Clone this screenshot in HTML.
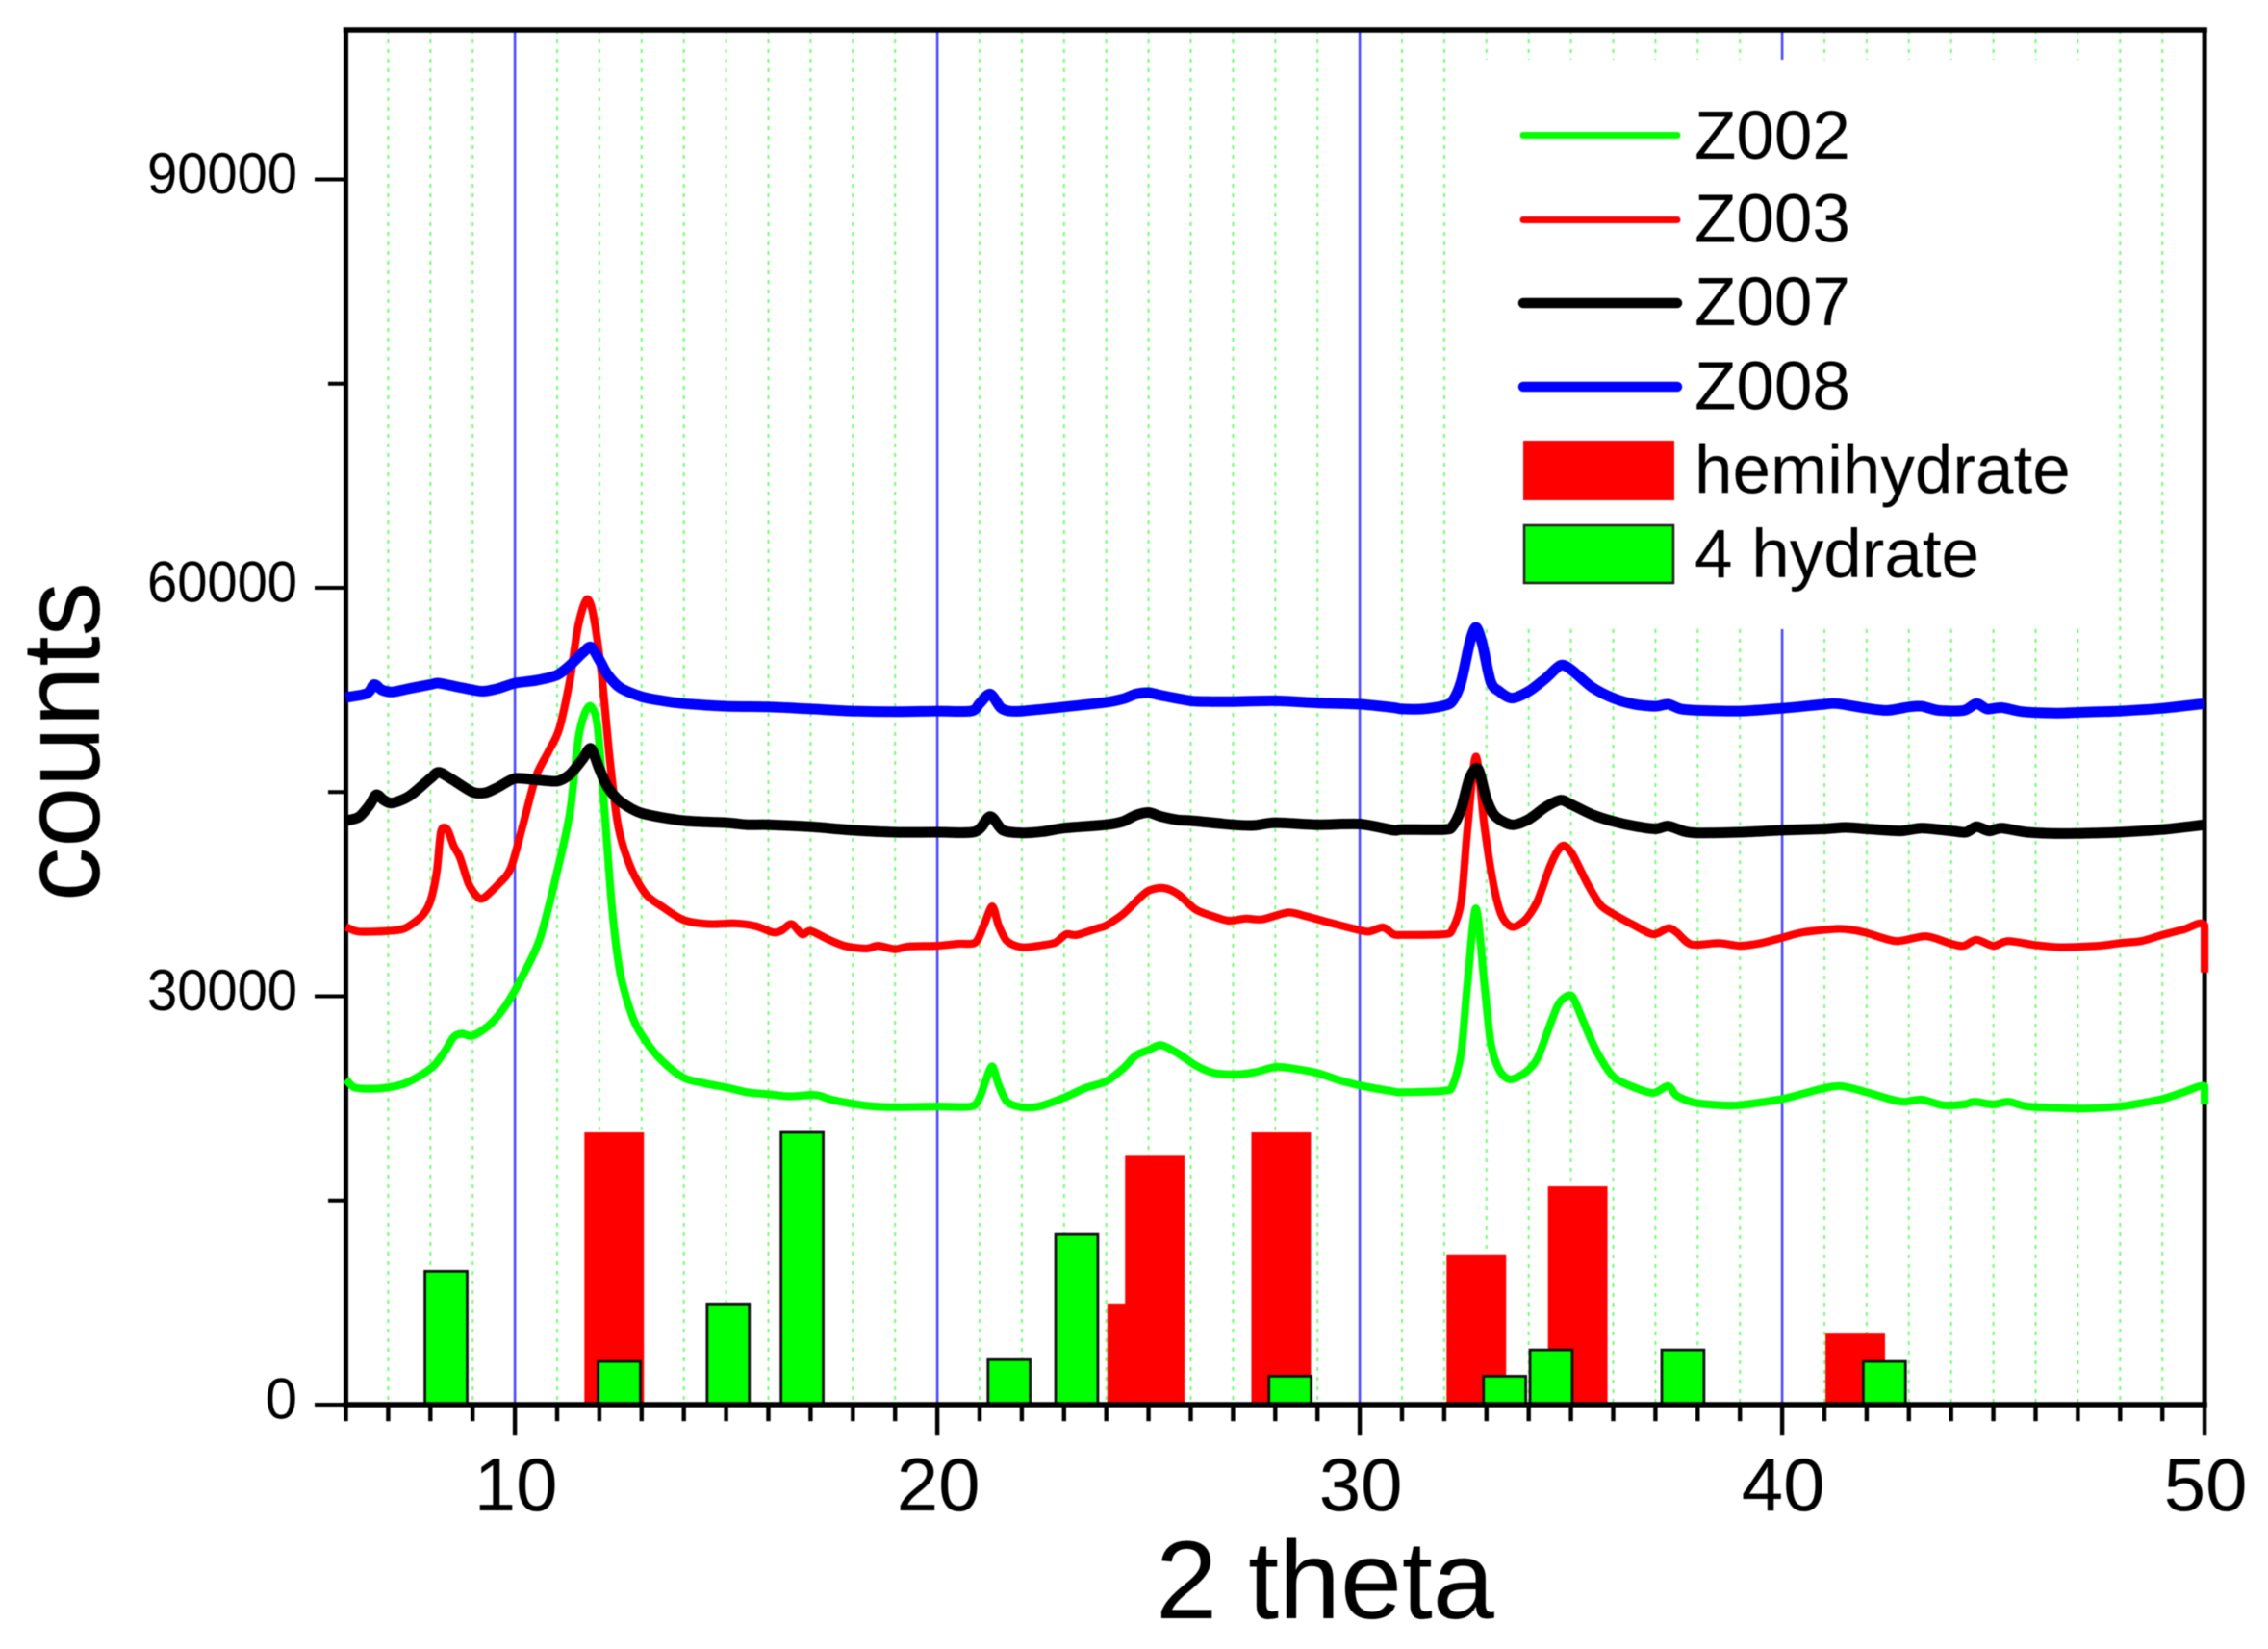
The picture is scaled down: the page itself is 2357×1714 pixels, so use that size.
<!DOCTYPE html>
<html lang="en">
<head>
<meta charset="utf-8">
<title>XRD counts vs 2 theta</title>
<style>
html,body{margin:0;padding:0;background:#fff;}
svg{display:block;position:absolute;left:0;top:0;font-family:"Liberation Sans",Arial,sans-serif;filter:blur(0.6px);}
text{fill:#000;}
</style>
</head>
<body>
<svg id="chart" xmlns="http://www.w3.org/2000/svg" width="2357" height="1714" viewBox="0 0 2357 1714">
  <rect x="0" y="0" width="2357" height="1714" fill="#fff"/>
  <g id="grid"></g>
  <rect x="1520" y="62" width="660" height="592" fill="#fff"/>
  <g id="bars"></g>
  <g id="axes"></g>
  <g id="series"></g>
  <text x="1377" y="1682" font-size="115" text-anchor="middle">2 theta</text>
  <text transform="translate(103,771) rotate(-90)" font-size="115" text-anchor="middle" textLength="332" lengthAdjust="spacingAndGlyphs">counts</text>
  <g>
    <g>
      <line x1="1583" y1="140.5" x2="1743" y2="140.5" stroke="#00ff00" stroke-width="7" stroke-linecap="round"/>
      <text x="1761" y="165" font-size="71">Z002</text>
    </g>
    <g>
      <line x1="1583" y1="228.5" x2="1743" y2="228.5" stroke="#ff0000" stroke-width="7" stroke-linecap="round"/>
      <text x="1761" y="251.5" font-size="71">Z003</text>
    </g>
    <g>
      <line x1="1583" y1="315" x2="1743" y2="315" stroke="#000" stroke-width="10.5" stroke-linecap="round"/>
      <text x="1761" y="338" font-size="71">Z007</text>
    </g>
    <g>
      <line x1="1583" y1="402" x2="1743" y2="402" stroke="#0000ff" stroke-width="10.5" stroke-linecap="round"/>
      <text x="1761" y="425.5" font-size="71">Z008</text>
    </g>
    <g>
      <rect x="1583" y="458" width="157" height="62" fill="#ff0000"/>
      <text x="1761" y="512.5" font-size="71">hemihydrate</text>
    </g>
    <g>
      <rect x="1584" y="546" width="155" height="60" fill="#00ff00" stroke="#222" stroke-width="2.5"/>
      <text x="1761" y="600" font-size="71">4 hydrate</text>
    </g>
  </g>
</svg>
<script>
// ---------- tick data ----------
const xMajorTicks = [10, 20, 30, 40, 50];
const xMinorTicks = [6,7,8,9,11,12,13,14,15,16,17,18,19,21,22,23,24,25,26,27,28,29,31,32,33,34,35,36,37,38,39,41,42,43,44,45,46,47,48,49];
const yMajorTicks = [0, 30000, 60000, 90000];
const yMinorTicks = [15000, 45000, 75000];
const legendHiddenGrid = [33,34,35,36,37,38,39,40,41,42,43,44,45,46,47];

// ---------- bar data ----------
const hemihydrateTheta = [12.35, 24.73, 25.15, 28.14, 32.76, 35.16, 41.73];
const hemihydrateCounts = [20000, 7430, 18280, 20000, 11040, 16040, 5220];
const hydrate4Theta = [8.37, 12.47, 15.05, 16.8, 21.7, 23.3, 28.35, 33.43, 34.53, 37.65, 42.42];
const hydrate4Counts = [9800, 3170, 7400, 20000, 3300, 12500, 2090, 2090, 4020, 4020, 3170];

// ---------- curve data ----------
const z002Theta = [
6,6.2,6.6,7,7.4,7.8,8.1,8.35,8.55,8.75,
9,9.4,9.8,10.2,10.6,11,11.3,11.5,11.65,11.8,
11.95,12.1,12.3,12.5,12.8,13.1,13.5,14,14.5,15,
15.5,16,16.5,17,17.2,17.5,18,18.5,19,20,
20.8,21,21.15,21.3,21.45,21.65,22,22.4,23,23.5,
24,24.4,24.7,25,25.3,25.7,26.1,26.5,27,27.5,
28,28.4,29,29.5,30,30.8,31,32,32.2,32.4,
32.55,32.75,32.95,33.1,33.3,33.55,33.9,34.2,34.5,34.7,
34.9,35.05,35.3,35.6,36,36.5,36.95,37.3,37.5,37.9,
38.5,39,40,40.5,41,41.4,42,42.6,42.9,43.3,
43.8,44.3,44.55,45,45.35,45.8,46.5,47.2,48,48.5,
49,49.5,50,50];
const z002Counts = [
23900,23300,23200,23300,23600,24250,24950,26000,27000,27250,
27100,27900,29400,31600,34300,39150,43450,48900,50750,51300,
49950,44550,36450,31600,28350,26700,25200,24000,23600,23300,
22950,22800,22650,22750,22700,22400,22100,21900,21850,21900,
21900,22550,23850,24850,23500,22250,21850,21900,22550,23250,
23750,24700,25650,26050,26400,25800,24950,24400,24250,24400,
24800,24700,24350,23850,23450,23000,22950,23050,23450,25850,
30900,36450,30900,26600,24600,23900,24350,25400,27850,29400,
30000,29900,28100,26000,24100,23300,22900,23400,22700,22200,
22000,22000,22450,22850,23250,23400,22950,22400,22250,22400,
22000,22050,22250,22050,22250,21900,21800,21750,21900,22150,
22450,22950,23400,22050];

const z003Theta = [
6,6.3,7,7.4,7.8,8,8.15,8.25,8.4,8.55,
8.7,8.9,9.1,9.25,9.6,9.9,10.2,10.5,10.8,11.05,
11.3,11.5,11.7,11.85,12.05,12.25,12.45,12.75,13.1,13.5,
14,14.6,15.2,15.7,16.1,16.3,16.55,16.8,17,17.4,
17.8,18.3,18.6,19,19.3,20,20.5,20.9,21.1,21.3,
21.45,21.65,22,22.5,22.8,23.05,23.3,23.8,24,24.4,
24.75,25,25.35,25.7,26.1,26.5,26.9,27.3,27.7,28.3,
28.7,29.3,29.8,30.2,30.55,30.8,31,32,32.2,32.4,
32.55,32.75,32.95,33.15,33.35,33.6,33.9,34.2,34.5,34.7,
34.85,35.05,35.4,35.7,36,36.5,36.95,37.3,37.5,37.85,
38.5,39,39.5,40,40.5,41.3,41.7,42,42.7,43.4,
44,44.3,44.6,45,45.35,46,46.6,47.5,48,48.5,
49,49.5,50,50];
const z003Counts = [
35100,34750,34800,35000,35900,37000,39150,42100,42250,41050,
40200,38300,37350,37200,38200,39400,42700,46150,48000,49650,
53200,57250,59150,58100,53750,47300,42400,39400,37500,36550,
35600,35300,35350,35150,34700,34800,35300,34550,34800,34200,
33700,33500,33700,33450,33650,33700,33850,33950,35200,36600,
35200,34050,33600,33750,33950,34550,34500,35000,35200,36050,
37100,37750,37950,37500,36400,35900,35550,35700,35650,36150,
35900,35400,35000,34750,35050,34550,34500,34550,34950,36950,
42250,47600,42500,38450,36000,35100,35550,36950,39500,40750,
41050,40350,38200,36700,36050,35200,34550,35000,34700,33800,
33900,33700,33900,34300,34700,34950,34850,34650,34050,34400,
33850,33700,34150,33700,34050,33750,33600,33700,33900,34050,
34500,34900,35200,31750];

const z007Theta = [
6,6.3,6.55,6.72,6.9,7.1,7.5,8,8.2,8.5,
9,9.3,9.6,10,10.5,11,11.3,11.6,11.8,12,
12.2,12.5,13,14,15,15.5,16,17,18,19,
20,20.9,21.25,21.55,22,22.5,23,24,24.4,24.7,
25,25.3,25.7,26,27,27.5,28,29,30,30.8,
31,32,32.2,32.4,32.6,32.8,33,33.2,33.6,34,
34.4,34.75,35,35.5,36,36.5,37,37.3,37.7,38,
39,40,41,41.5,42,42.8,43.3,44,44.35,44.6,
44.9,45.2,45.8,46.6,47.5,48,49,50];
const z007Counts = [
42900,43150,44000,44800,44400,44200,44700,46000,46450,45950,
45000,44950,45350,46000,45900,45800,46300,47400,48200,46700,
45350,44300,43450,42900,42750,42600,42600,42450,42200,42050,
42050,42100,43200,42200,42000,42100,42350,42600,42850,43300,
43500,43200,42950,42900,42600,42550,42750,42600,42650,42200,
42250,42250,42500,43750,46000,46700,44500,43250,42600,43000,
43900,44400,44100,43350,42850,42500,42300,42500,42100,42000,
42050,42200,42300,42400,42300,42150,42350,42150,42050,42450,
42150,42350,42050,41950,42000,42050,42250,42600];

const z008Theta = [
6,6.5,6.67,6.85,7.1,7.5,8,8.2,8.6,9,
9.25,9.6,10,10.5,11,11.3,11.6,11.8,12,12.2,
12.5,13,13.5,14,15,16,17,18,19,20,
20.8,21,21.25,21.5,21.7,22,23,24,24.4,24.7,
25,25.3,26,26.5,27,28,29,30,30.8,31,
31.5,32,32.2,32.4,32.6,32.75,32.9,33.1,33.3,33.6,
34,34.4,34.75,35,35.5,36,36.5,37,37.3,37.6,
38,39,40,41,41.3,42,42.5,43,43.3,43.7,
44.3,44.6,44.85,45.2,45.7,46.5,47,47.5,48,49,
50];
const z008Counts = [
51950,52250,52900,52500,52350,52600,52900,53000,52750,52500,
52400,52600,53000,53200,53600,54300,55200,55650,54700,53600,
52650,52000,51700,51500,51300,51250,51100,50950,50900,50950,
50950,51500,52200,51200,50950,50950,51250,51600,51850,52200,
52300,52100,51700,51650,51650,51700,51550,51450,51200,51100,
51100,51350,51700,53100,55900,57100,55900,53100,52400,51900,
52400,53350,54300,54000,52700,51900,51450,51300,51450,51100,
51000,50950,51150,51450,51500,51150,51000,51250,51300,51000,
51000,51500,51100,51200,50900,50800,50850,50900,50950,51150,
51500];

// ---------- axis functions ----------
const NS = 'http://www.w3.org/2000/svg';
const AXIS_TOP = 31, AXIS_BOTTOM = 1460, AXIS_LEFT = 359.5;
function xScale(theta) { return AXIS_LEFT + (theta - 6) * 43.9; }
function yScale(counts) { return AXIS_BOTTOM - counts * 0.01415; }
const AXIS_RIGHT = xScale(50);

function svgEl(tag, attrs, parent) {
  const el = document.createElementNS(NS, tag);
  for (const k in attrs) el.setAttribute(k, attrs[k]);
  parent.appendChild(el);
  return el;
}

// ---------- grid ----------
const gridGroup = document.getElementById('grid');
for (let d = 7; d < 50; d++) {
  const isMajor = d % 10 === 0;
  const segs = legendHiddenGrid.includes(d)
    ? [[AXIS_TOP, 62], [654, AXIS_BOTTOM]]
    : [[AXIS_TOP, AXIS_BOTTOM]];
  segs.forEach(function (s) {
    const ln = svgEl('line', {
      x1: xScale(d), x2: xScale(d), y1: s[0], y2: s[1],
      stroke: isMajor ? '#4a4aff' : '#6fff6f',
      'stroke-width': isMajor ? 2.6 : 2,
      'stroke-dasharray': isMajor ? 'none' : '4 6'
    }, gridGroup);
    
    
  });
}

// ---------- bars ----------
const barsGroup = document.getElementById('bars');
hemihydrateTheta.forEach(function (t, i) {
  const w = 1.41 * 43.9;
  const r = svgEl('rect', {
    x: xScale(t) - w / 2, y: yScale(hemihydrateCounts[i]),
    width: w, height: yScale(0) - yScale(hemihydrateCounts[i]), fill: '#ff0000'
  }, barsGroup);
  
  
});
hydrate4Theta.forEach(function (t, i) {
  const w = 1.0 * 43.9;
  const r = svgEl('rect', {
    x: xScale(t) - w / 2, y: yScale(hydrate4Counts[i]),
    width: w, height: yScale(0) - yScale(hydrate4Counts[i]),
    fill: '#00ff00', stroke: '#111', 'stroke-width': 2.8
  }, barsGroup);
  
  
});

// ---------- axes ----------
const axesGroup = document.getElementById('axes');
function axisLine(x1, y1, x2, y2, w, name) {
  const ln = svgEl('line', { x1: x1, y1: y1, x2: x2, y2: y2, stroke: '#000', 'stroke-width': w, 'stroke-linecap': 'square' }, axesGroup);
  
  
}
axisLine(AXIS_LEFT, AXIS_TOP, AXIS_RIGHT, AXIS_TOP, 5.5, 'top-axis-line');
axisLine(AXIS_LEFT, AXIS_TOP, AXIS_LEFT, AXIS_BOTTOM, 5, 'left-axis-line');
axisLine(AXIS_RIGHT, AXIS_TOP, AXIS_RIGHT, AXIS_BOTTOM, 5, 'right-axis-line');
axisLine(AXIS_LEFT, AXIS_BOTTOM, AXIS_RIGHT, AXIS_BOTTOM, 5.5, 'x-axis-line');

xMinorTicks.forEach(function (d) {
  axisLine(xScale(d), AXIS_BOTTOM, xScale(d), 1475, 4.4, 'x-minor-tick');
});
xMajorTicks.forEach(function (d) {
  axisLine(xScale(d), AXIS_BOTTOM, xScale(d), 1490, 4.4, 'x-major-tick');
  const t = svgEl('text', { x: xScale(d) + 1, y: 1570, 'font-size': 78, 'text-anchor': 'middle' }, axesGroup);
  t.textContent = String(d);
  
  
});
yMinorTicks.forEach(function (v) {
  axisLine(343, yScale(v), AXIS_LEFT, yScale(v), 4, 'y-minor-tick');
});
yMajorTicks.forEach(function (v) {
  axisLine(329, yScale(v), AXIS_LEFT, yScale(v), 4, 'y-major-tick');
  const attrs = { x: 309, y: yScale(v) + 14.5, 'font-size': 60, 'text-anchor': 'end' };
  if (v > 0) { attrs.textLength = 156; attrs.lengthAdjust = 'spacingAndGlyphs'; }
  const t = svgEl('text', attrs, axesGroup);
  t.textContent = String(v);
  
  
});

// ---------- curves ----------
const seriesGroup = document.getElementById('series');
function drawCurve(thetas, counts, color, width, name) {
  const n = Math.min(thetas.length, counts.length);
  const px = [];
  const py = [];
  for (let i = 0; i < n; i++) {
    px.push(xScale(thetas[i]));
    py.push(yScale(counts[i]));
  }
  // Catmull-Rom smoothing through the traced values
  let d = 'M' + px[0].toFixed(1) + ' ' + py[0].toFixed(1);
  for (let i = 0; i < n - 1; i++) {
    const a = Math.max(i - 1, 0), c = i + 1, e = Math.min(i + 2, n - 1);
    const c1x = Math.min(px[i] + (px[c] - px[a]) / 7, px[c]);
    const c1y = py[i] + (py[c] - py[a]) / 7;
    const c2x = Math.max(px[c] - (px[e] - px[i]) / 7, px[i]);
    const c2y = py[c] - (py[e] - py[i]) / 7;
    d += 'C' + c1x.toFixed(1) + ' ' + c1y.toFixed(1) + ' ' + c2x.toFixed(1) + ' ' + c2y.toFixed(1) + ' ' + px[c].toFixed(1) + ' ' + py[c].toFixed(1);
  }
  const pl = svgEl('path', {
    d: d, fill: 'none', stroke: color, 'stroke-width': width,
    'stroke-linejoin': 'round', 'stroke-linecap': 'butt'
  }, seriesGroup);
  
  
}
drawCurve(z002Theta, z002Counts, '#00ff00', 8.2, 'series-z002');
drawCurve(z003Theta, z003Counts, '#ff0000', 8.2, 'series-z003');
drawCurve(z007Theta, z007Counts, '#000000', 11, 'series-z007');
drawCurve(z008Theta, z008Counts, '#0000ff', 11, 'series-z008');
</script>
</body>
</html>
